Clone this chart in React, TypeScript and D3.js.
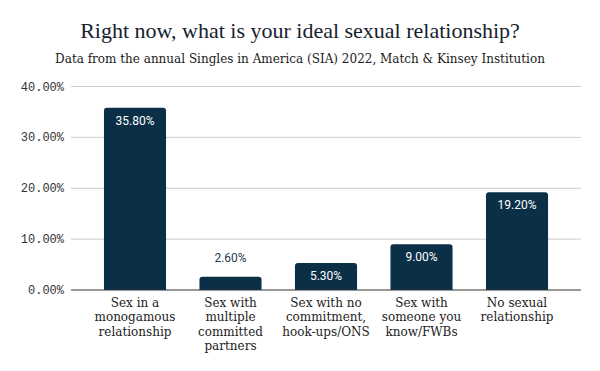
import React from "react";
import * as d3 from "d3";

const categories: string[][] = [
  ["Sex in a", "monogamous", "relationship"],
  ["Sex with", "multiple", "committed", "partners"],
  ["Sex with no", "commitment,", "hook-ups/ONS"],
  ["Sex with", "someone you", "know/FWBs"],
  ["No sexual", "relationship"],
];
const values: number[] = [35.8, 2.6, 5.3, 9.0, 19.2];
const yTicks: number[] = [0, 10, 20, 30, 40];
const title = "Right now, what is your ideal sexual relationship?";
const subtitle = "Data from the annual Singles in America (SIA) 2022, Match & Kinsey Institution";

const W = 600;
const H = 371;
const BAR = "#0c2f48";

function topRoundedRect(x: number, y: number, w: number, h: number, r: number) {
  const rr = Math.min(r, h, w / 2);
  return `M${x},${y + h}V${y + rr}Q${x},${y} ${x + rr},${y}H${x + w - rr}Q${x + w},${y} ${x + w},${y + rr}V${y + h}Z`;
}

export default function App() {
  const ids = categories.map((_, i) => String(i));
  const x = d3.scaleBand<string>().domain(ids).range([71, 581]).paddingInner(0.35).paddingOuter(0.345);
  const y = d3.scaleLinear().domain([0, 40]).range([290, 86.5]);
  const fmt = (v: number) => v.toFixed(2) + "%";

  return (
    <svg width={W} height={H} style={{ position: "absolute", left: 0, top: 0, background: "#fff" }}>
      <rect width={W} height={H} fill="#fff" />
      <text x={300} y={37.5} textAnchor="middle" fontFamily="Liberation Serif" fontSize={22} fill="#17222e">
        {title}
      </text>
      <text x={300} y={62.5} textAnchor="middle" fontFamily="DejaVu Serif" fontSize={12} fill="#1a1a1a">
        {subtitle}
      </text>
      {yTicks.map((t) => (
        <g key={t}>
          {t !== 0 && <line x1={71} x2={581} y1={y(t)} y2={y(t)} stroke="#cccccc" strokeWidth={1} />}
          <text x={64} y={y(t) + 4} textAnchor="end" fontFamily="Liberation Mono" fontSize={12} fill="#333">
            {fmt(t)}
          </text>
        </g>
      ))}
      {values.map((v, i) => {
        const bx = x(ids[i])!;
        const bw = x.bandwidth();
        const top = y(v);
        const inside = y(0) - top > 22;
        return (
          <g key={i}>
            <path d={topRoundedRect(bx, top, bw, y(0) - top, 3)} fill={BAR} />
            <text
              x={bx + bw / 2}
              y={inside ? top + 17 : top - 15}
              textAnchor="middle"
              fontFamily="Roboto"
              fontSize={12}
              fill={inside ? "#ffffff" : "#1f3a52"}
            >
              {fmt(v)}
            </text>
            {categories[i].map((line, j) => (
              <text
                key={j}
                x={bx + bw / 2}
                y={306.5 + j * 14.5}
                textAnchor="middle"
                fontFamily="DejaVu Serif"
                fontSize={12}
                fill="#222"
              >
                {line}
              </text>
            ))}
          </g>
        );
      })}
      <line x1={71} x2={581} y1={y(0)} y2={y(0)} stroke="#333" strokeWidth={1} />
    </svg>
  );
}
